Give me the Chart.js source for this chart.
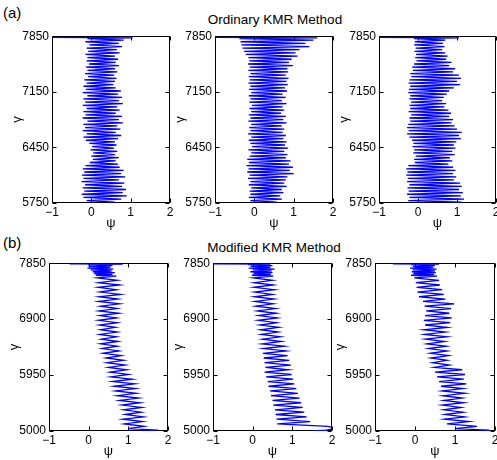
<!DOCTYPE html>
<html>
<head>
<meta charset="utf-8">
<script src="https://cdn.jsdelivr.net/npm/chart.js@4.4.1/dist/chart.umd.min.js"></script>
<style>
  body { margin: 0; width: 497px; height: 460px; overflow: hidden; background: #fff; position: relative; font-family: "Liberation Sans", Arial, sans-serif; }
  canvas { position: absolute; }
  .lbl { position: absolute; color: #000; white-space: nowrap; }
</style>
</head>
<body>
<div class="lbl" style="left:3px;top:5px;font-size:15px;line-height:15px;">(a)</div>
<div class="lbl" style="left:175px;width:200px;text-align:center;top:12px;font-size:13.5px;line-height:15px;">Ordinary KMR Method</div>
<div class="lbl" style="left:3px;top:235px;font-size:15px;line-height:15px;">(b)</div>
<div class="lbl" style="left:174px;width:200px;text-align:center;top:240px;font-size:13.5px;line-height:15px;">Modified KMR Method</div>

<canvas id="a1"></canvas>
<canvas id="a2"></canvas>
<canvas id="a3"></canvas>
<canvas id="b1"></canvas>
<canvas id="b2"></canvas>
<canvas id="b3"></canvas>

<script>
let xTicks = [-1, 0, 1, 2];
let yTicksTop = [5750, 6450, 7150, 7850];
let yTicksBottom = [5000, 5950, 6900, 7850];

// gamma positions of the profile vertices (top row panels)
let gammaTop = [7835, 7830,
  7820,7800,7780,7760,7740,7720,7700,7680,7660,7640,7620,7600,7580,7560,7540,7520,7500,7480,7460,7440,
  7420,7400,7380,7360,7340,7320,7300,7280,7260,7240,7220,7200,7180,7160,7140,7120,7100,7080,7060,7040,
  7020,7000,6980,6960,6940,6920,6900,6880,6860,6840,6820,6800,6780,6760,6740,6720,6700,6680,6660,6640,
  6620,6600,6580,6560,6540,6520,6500,6480,6460,6440,6420,6400,6380,6360,6340,6320,6300,6280,6260,6240,
  6220,6200,6180,6160,6140,6120,6100,6080,6060,6040,6020,6000,5980,5960,5940,5920,5900,5880,5860,5840,
  5820,5800,5780,5760];

// ordinary KMR, psi values
let psiA1 = [-1, 1.05,
  -0.1,0.82, -0.15,0.7, -0.05,0.78, -0.12,0.65, -0.08,0.72, -0.15,0.6, -0.1,0.68, -0.12,0.62, -0.06,0.7, -0.14,0.6,
  -0.1,0.66, -0.16,0.58, -0.08,0.64, -0.18,0.6, -0.12,0.56, -0.2,0.62, -0.14,0.75, -0.22,0.68, -0.1,0.78, -0.2,0.7,
  -0.16,0.8, -0.22,0.66, -0.12,0.72, -0.2,0.62, -0.15,0.78, -0.22,0.7, -0.1,0.8, -0.2,0.66, -0.16,0.74, -0.22,0.62,
  -0.12,0.76, -0.2,0.68, -0.14,0.6, -0.05,0.64, 0.02,0.58, -0.02,0.66, 0.05,0.6, 0.0,0.7, 0.04,0.62, -0.04,0.68,
  -0.15,0.72, -0.22,0.82, -0.18,0.76, -0.24,0.86, -0.2,0.7, -0.25,0.84, -0.16,0.78, -0.22,0.88, -0.18,0.8, -0.24,0.9,
  -0.2,0.76, -0.12,0.6];
let psiA2 = [-1, 1.6,
  -0.38,1.5, -0.35,1.3, -0.33,1.4, -0.3,1.15, -0.26,1.05, -0.22,1.1, -0.15,0.95, -0.13,0.88, -0.16,0.98, -0.12,0.84,
  -0.15,0.86, -0.1,0.8, -0.14,0.87, -0.12,0.82, -0.15,0.85, -0.1,0.78, -0.13,0.83, -0.08,0.72, -0.14,0.8, -0.1,0.7,
  -0.13,0.82, -0.06,0.72, -0.12,0.76, -0.08,0.68, -0.14,0.8, -0.1,0.74, -0.15,0.82, -0.08,0.7, -0.13,0.76, -0.1,0.72,
  -0.16,0.8, -0.08,0.74, -0.14,0.82, -0.1,0.78, -0.06,0.86, -0.15,0.76, -0.08,0.84, -0.12,0.8, -0.18,0.92, -0.14,0.88,
  -0.2,0.98, -0.15,0.9, -0.18,1.0, -0.12,0.84, -0.16,0.8, -0.1,0.76, -0.14,0.82, -0.08,0.7, -0.12,0.74, -0.1,0.66,
  -0.14,0.7, -0.1,0.58];
let psiA3 = [-1, 1.05,
  -0.1,0.7, -0.08,0.64, -0.1,0.68, -0.06,0.62, -0.09,0.7, -0.05,0.76, -0.07,0.72, -0.04,0.86, -0.1,0.8, -0.15,0.95,
  -0.13,0.9, -0.2,1.05, -0.17,1.1, -0.22,1.0, -0.24,1.08, -0.2,0.92, -0.23,0.8, -0.25,0.74, -0.2,0.66, -0.22,0.62,
  -0.18,0.72, -0.22,0.68, -0.2,0.78, -0.24,0.85, -0.18,0.8, -0.22,0.9, -0.2,0.86, -0.25,0.94, -0.28,1.0, -0.24,1.12,
  -0.28,1.05, -0.22,1.1, -0.15,0.98, -0.12,0.92, -0.14,0.96, -0.1,0.88, -0.12,0.94, -0.06,0.82, -0.1,0.88, -0.08,0.78,
  -0.25,0.9, -0.3,0.96, -0.27,0.9, -0.3,0.98, -0.26,0.92, -0.28,1.08, -0.22,1.12, -0.27,1.05, -0.24,1.15, -0.28,1.1,
  -0.22,1.18, -0.25,1.12];

// gamma positions of the profile vertices (bottom row panels)
let gammaBottom = [7840, 7835,
  7825,7810,7795,7780,7765,7750,7735,7720,7705,7690,7675,7660,7645,7630,
  7600,7560,7520,7480,7440,7400,7360,7320,7280,7240,7200,7160,7120,7080,7040,7000,6960,6920,6880,6840,
  6800,6760,6720,6680,6640,6600,6560,6520,6480,6440,6400,6360,6320,6280,6240,6200,6160,6120,6080,6040,
  6000,5960,5920,5880,5840,5800,5760,5720,5680,5640,5600,5560,5520,5480,5440,5400,5360,5320,5280,5240,
  5200,5160,5120,5080,5040,
  5015,5000];

// modified KMR, psi values
let psiB1 = [-0.48, 0.86,
  -0.02,0.6, 0.0,0.55, -0.03,0.62, 0.05,0.58, 0.1,0.66, 0.14,0.6, 0.18,0.7,
  0.22,0.72, 0.25,0.78, 0.24,0.7, 0.28,0.8, 0.26,0.74, 0.25,0.78, 0.3,0.72, 0.26,0.76, 0.28,0.7, 0.25,0.72,
  0.27,0.68, 0.3,0.72, 0.28,0.7, 0.32,0.74, 0.3,0.72, 0.34,0.76, 0.36,0.82, 0.44,0.88, 0.46,0.92, 0.5,0.96,
  0.54,1.0, 0.56,1.1, 0.6,1.16, 0.64,1.18, 0.68,1.2, 0.72,1.26, 0.78,1.3, 0.84,1.34, 0.88,1.32, 0.92,1.38,
  0.86,1.36, 0.9,1.4, 1.0,
  1.75, 1.25];
let psiB2 = [-1, 0.45,
  -0.12,0.5, -0.05,0.45, -0.1,0.55, 0.0,0.48, -0.06,0.5, 0.02,0.46, -0.02,0.52,
  0.02,0.5, 0.04,0.52, 0.03,0.55, 0.05,0.5, 0.04,0.54, 0.06,0.52, 0.08,0.58, 0.12,0.6, 0.15,0.62, 0.14,0.6,
  0.18,0.66, 0.2,0.64, 0.22,0.7, 0.25,0.72, 0.24,0.8, 0.27,0.84, 0.26,0.88, 0.28,0.92, 0.3,0.96, 0.32,0.9,
  0.3,0.98, 0.34,1.02, 0.38,1.05, 0.4,1.1, 0.44,1.14, 0.46,1.18, 0.5,1.22, 0.52,1.26, 0.56,1.3, 0.58,1.36,
  0.6,1.45, 0.62,1.9, 2.1,
  1.85, 1.5];
let psiB3 = [-0.55, 0.6,
  -0.1,0.5, -0.05,0.46, -0.12,0.54, -0.06,0.5, -0.08,0.52, -0.04,0.48, -0.1,0.55,
  -0.02,0.6, 0.02,0.62, 0.04,0.68, 0.06,0.72, 0.1,0.76, 0.2,0.98, 0.24,0.9, 0.28,0.86, 0.25,0.92, 0.22,0.88,
  0.25,0.8, 0.22,0.76, 0.24,0.8, 0.26,0.74, 0.3,0.78, 0.34,0.8, 0.38,0.84, 0.4,0.8, 0.44,0.86, 0.48,1.18,
  0.5,1.25, 0.55,1.22, 0.6,1.28, 0.65,1.2, 0.68,1.25, 0.7,1.18, 0.72,1.22, 0.68,1.15, 0.72,1.2, 0.75,1.24,
  0.74,1.35, 0.8,1.55, 1.0,
  1.85, 1.6];

const FONT = "'Liberation Sans', Arial, sans-serif";
const Y_W = 52, PAD_T = 10, PAD_R = 12, X_H = 30;

// box with inward tick marks on all four sides + the two axis letters
const framePlugin = {
  id: 'frame',
  beforeDatasetsDraw(chart) {
    const {ctx, chartArea: a, scales: {x, y}} = chart;
    const l = Math.round(a.left) + 0.5, r = Math.round(a.right) - 0.5;
    const t = Math.round(a.top) + 0.5, b = Math.round(a.bottom) - 0.5;
    ctx.save();
    ctx.strokeStyle = '#000';
    ctx.lineWidth = 1;
    ctx.strokeRect(l, t, r - l, b - t);
    ctx.beginPath();
    x.ticks.forEach(tk => {
      const px = Math.round(x.getPixelForValue(tk.value)) + 0.5;
      ctx.moveTo(px, t); ctx.lineTo(px, t + 4);
      ctx.moveTo(px, b); ctx.lineTo(px, b - 4);
    });
    y.ticks.forEach(tk => {
      const py = Math.round(y.getPixelForValue(tk.value)) + 0.5;
      ctx.moveTo(l, py); ctx.lineTo(l + 4, py);
      ctx.moveTo(r, py); ctx.lineTo(r - 4, py);
    });
    ctx.stroke();

    ctx.fillStyle = '#000';
    ctx.font = '13px ' + FONT;
    ctx.textAlign = 'center';
    ctx.textBaseline = 'middle';
    ctx.fillText('ψ', (a.left + a.right) / 2, a.bottom + 20);
    ctx.translate(a.left - 35, (a.top + a.bottom) / 2);
    ctx.rotate(-Math.PI / 2);
    ctx.fillText('γ', 0, 0);
    ctx.restore();
  }
};

function makePanel(id, area, gamma, psi, yTicks) {
  const cv = document.getElementById(id);
  cv.width = Y_W + area.w + PAD_R;
  cv.height = PAD_T + area.h + X_H;
  cv.style.left = (area.left - Y_W) + 'px';
  cv.style.top = (area.top - PAD_T) + 'px';

  new Chart(cv, {
    type: 'scatter',
    data: {
      datasets: [{
        data: gamma.map((g, i) => ({x: psi[i], y: g})),
        showLine: true,
        borderColor: '#0000ff',
        borderWidth: 1.3,
        pointRadius: 0,
        tension: 0
      }]
    },
    options: {
      responsive: false,
      animation: false,
      layout: {padding: {top: PAD_T, right: PAD_R, left: 0, bottom: 0}},
      plugins: {legend: {display: false}, tooltip: {enabled: false}},
      scales: {
        x: {
          type: 'linear', min: -1, max: 2,
          afterBuildTicks: s => { s.ticks = xTicks.map(v => ({value: v})); },
          afterFit: s => { s.height = X_H; },
          grid: {display: false, drawTicks: false},
          border: {display: false},
          ticks: {
            padding: 2, color: '#000', maxRotation: 0, autoSkip: false,
            font: {family: FONT, size: 12},
            callback: v => v < 0 ? '\u2212' + Math.abs(v) : String(v)
          }
        },
        y: {
          type: 'linear', min: yTicks[0], max: yTicks[yTicks.length - 1],
          afterBuildTicks: s => { s.ticks = yTicks.map(v => ({value: v})); },
          afterFit: s => { s.width = Y_W; },
          grid: {display: false, drawTicks: false},
          border: {display: false},
          ticks: {padding: 3, color: '#000', autoSkip: false, font: {family: FONT, size: 12}, callback: v => String(v)}
        }
      }
    },
    plugins: [framePlugin]
  });
}

makePanel('a1', {left: 52, top: 36, w: 118, h: 167}, gammaTop, psiA1, yTicksTop);
makePanel('a2', {left: 215, top: 36, w: 118, h: 167}, gammaTop, psiA2, yTicksTop);
makePanel('a3', {left: 379, top: 36, w: 117, h: 167}, gammaTop, psiA3, yTicksTop);
makePanel('b1', {left: 49, top: 263, w: 119, h: 168}, gammaBottom, psiB1, yTicksBottom);
makePanel('b2', {left: 213, top: 263, w: 119, h: 168}, gammaBottom, psiB2, yTicksBottom);
makePanel('b3', {left: 375, top: 263, w: 120, h: 168}, gammaBottom, psiB3, yTicksBottom);
</script>
</body>
</html>
